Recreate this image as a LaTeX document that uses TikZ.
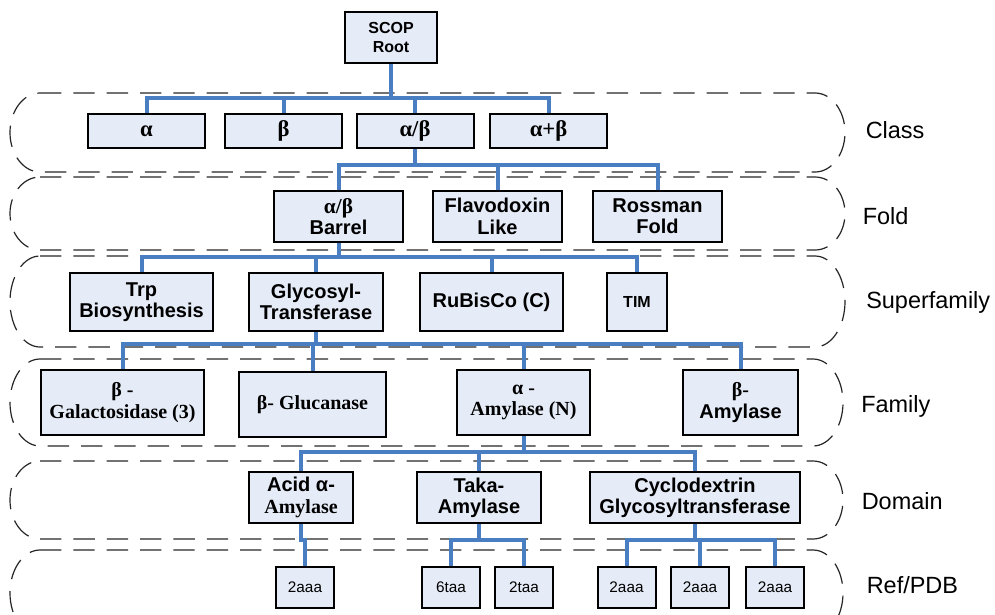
\documentclass[tikz,border=0pt]{standalone}
\usepackage{fontspec}
\setmainfont{Liberation Sans}
\newfontfamily\tnr{Liberation Serif}
\usetikzlibrary{backgrounds}

\definecolor{boxfill}{HTML}{E6ECF7}
\definecolor{linkblue}{HTML}{4A7EC3}

\tikzset{
  box/.style={draw=black, line width=1.5pt, fill=boxfill, inner sep=0pt,
              align=center, font=\bfseries\fontsize{15}{16}\selectfont},
  sbox/.style={box, font=\tnr\bfseries\fontsize{15}{16}\selectfont},
  smallbox/.style={box, font=\bfseries\fontsize{12}{14.25}\selectfont},
  pdbbox/.style={box, font=\fontsize{11.5}{13}\selectfont,
                 minimum width=43.5pt, minimum height=30.75pt},
  clsbox/.style={box, font=\tnr\bfseries\fontsize{17}{18}\selectfont,
                 minimum width=87.75pt, minimum height=25.5pt},
  foldbox/.style={minimum width=96.75pt, minimum height=38.25pt},
  link/.style={draw=linkblue, line width=3pt},
  bandline/.style={draw=black!85, line width=0.9pt, dash pattern=on 16pt off 9pt},
  levellabel/.style={anchor=base west, inner sep=0pt,
                     font=\fontsize{17.6}{20}\selectfont},
}

% dashed level band with elliptic ends: left, top, right, bottom (pixel units)
\newcommand\levelband[4]{%
  \draw[bandline] ({#1+30},#2) -- ({#3-30},#2)
    arc[start angle=90, end angle=-90, x radius=22.5pt, y radius={(#4-#2)*0.375pt}]
    -- ({#1+30},#4)
    arc[start angle=270, end angle=90, x radius=22.5pt, y radius={(#4-#2)*0.375pt}]
    -- cycle;}

\begin{document}
\begin{tikzpicture}[x=0.75pt, y=-0.75pt]
\useasboundingbox (0,0) rectangle (995,614);
\clip (0,0) rectangle (995,614);

% root
\node[smallbox, minimum width=69pt, minimum height=38.25pt] (root) at (391,37.5) {SCOP\\Root};

% class
\node[clsbox] (cA)   at (146.5,131) {α};
\node[clsbox] (cB)   at (283.5,131) {β};
\node[clsbox] (cAB)  at (415,131)   {α/β};
\node[clsbox] (cApB) at (548.5,131) {α+β};

% fold
\node[box, foldbox] (fBar) at (338.5,216.5) {{\tnr\fontsize{16}{16}\selectfont α/β}\\Barrel};
\node[box, foldbox] (fFla) at (497.5,216.5) {Flavodoxin\\Like};
\node[box, foldbox] (fRos) at (657.5,216.5) {Rossman\\Fold};

% superfamily
\node[box, minimum width=107.25pt, minimum height=43.5pt] (sTrp) at (141.5,302) {Trp\\Biosynthesis};
\node[box, minimum width=100.5pt,  minimum height=43.5pt] (sGly) at (316,302)   {Glycosyl-\\Transferase};
\node[box, minimum width=107.25pt, minimum height=43.5pt] (sRub) at (491.5,302) {RuBisCo (C)};
\node[smallbox, minimum width=45pt, minimum height=43.5pt] (sTIM) at (637,302)  {TIM};

% family
\node[sbox, minimum width=122.25pt, minimum height=48.75pt] (mGal) at (122.5,402.5) {β -\\Galactosidase (3)};
\node[sbox, minimum width=110.25pt, minimum height=48.75pt] (mGlu) at (312.5,404.5) {β- Glucanase};
\node[sbox, minimum width=99.75pt,  minimum height=48.75pt] (mAlA) at (523.5,402.5) {α -\\Amylase (N)};
\node[box,  minimum width=86.25pt,  minimum height=48.75pt] (mBeA) at (740.5,402.5) {{\tnr β-}\\Amylase};

% domain
\node[box, minimum width=78pt,    minimum height=38.25pt] (dAcid) at (301,497.5) {Acid α-\\{\tnr Amylase}};
\node[box, minimum width=93pt,    minimum height=38.25pt] (dTaka) at (479,497.5) {Taka-\\Amylase};
\node[box, minimum width=157.5pt, minimum height=38.25pt] (dCyc)  at (695,497.5) {Cyclodextrin\\Glycosyltransferase};

% reference entries
\node[pdbbox] (p1) at (305,587.5)   {2aaa};
\node[pdbbox] (p2) at (451,587.5)   {6taa};
\node[pdbbox] (p3) at (524,587.5)   {2taa};
\node[pdbbox] (p4) at (626.5,587.5) {2aaa};
\node[pdbbox] (p5) at (700,587.5)   {2aaa};
\node[pdbbox] (p6) at (775,587.5)   {2aaa};

% level names
\node[levellabel] (lClass) at (865.5,138) {Class};
\node[levellabel] (lFold)  at (862.5,224) {Fold};
\node[levellabel] (lSup)   at (866,308)   {Superfamily};
\node[levellabel] (lFam)   at (861,412)   {Family};
\node[levellabel] (lDom)   at (861.5,509) {Domain};
\node[levellabel] (lRef)   at (866.5,593) {Ref/PDB};

\begin{scope}[on background layer]
  \levelband{10}{93}{845}{172}
  \levelband{10}{177}{845}{250}
  \levelband{10}{256}{845}{347}
  \levelband{10}{359}{843}{446}
  \levelband{10}{461}{843}{539}
  \levelband{10}{550}{843}{636}

  \foreach \c in {cA,cB,cAB,cApB}
    \draw[link] (root.south) -- ++(0,34) -| (\c.north);
  \foreach \c in {fBar,fFla,fRos}
    \draw[link] (cAB.south) -- ++(0,16) -| (\c.north);
  \foreach \c in {sTrp,sGly,sRub,sTIM}
    \draw[link] (fBar.south) -- ++(0,14) -| (\c.north);
  \foreach \c in {mGal,mGlu,mAlA,mBeA}
    \draw[link] (sGly.south) -- ++(0,12) -| (\c.north);
  \foreach \c in {dAcid,dTaka,dCyc}
    \draw[link] (mAlA.south) -- ++(0,16) -| (\c.north);
  \draw[link] (dAcid.south) -- ++(0,16) -| (p1.north);
  \foreach \c in {p2,p3}
    \draw[link] (dTaka.south) -- ++(0,16) -| (\c.north);
  \foreach \c in {p4,p5,p6}
    \draw[link] (dCyc.south) -- ++(0,16) -| (\c.north);
\end{scope}
\end{tikzpicture}
\end{document}
